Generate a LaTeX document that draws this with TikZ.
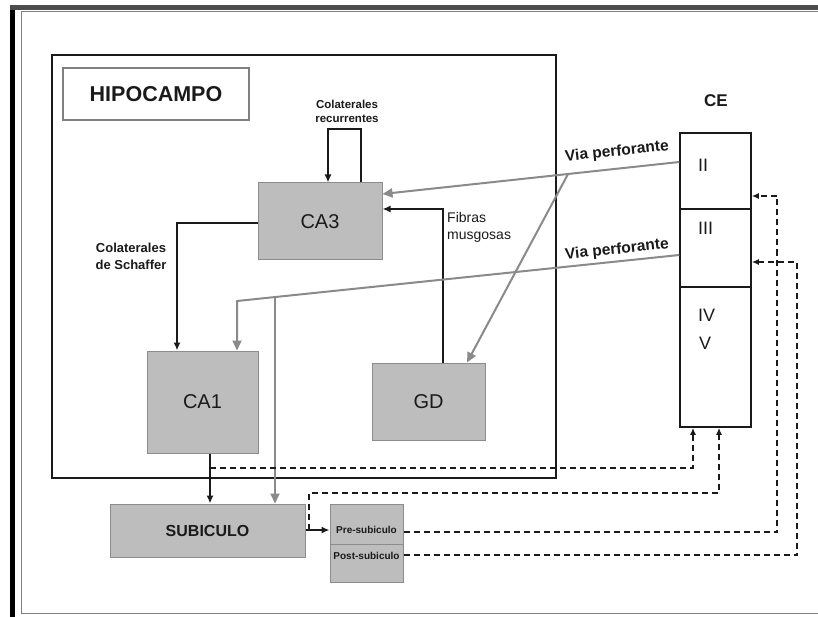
\documentclass[tikz,border=0pt]{standalone}
\usepackage{fontspec}
\setmainfont{Liberation Sans}
\usetikzlibrary{arrows.meta,calc}
\definecolor{boxgray}{HTML}{BDBDBD}
\definecolor{edgegray}{HTML}{8C8C8C}
\definecolor{linegray}{HTML}{8A8A8A}
\definecolor{ink}{HTML}{1A1A1A}
\begin{document}
\begin{tikzpicture}[x=1pt,y=-1pt,
  graybox/.style={draw=edgegray, line width=1pt, fill=boxgray, inner sep=0pt, text=ink,
                  font=\fontsize{20}{24}\selectfont},
  cebox/.style={draw=ink, line width=1.5pt, fill=white, inner sep=0pt, minimum width=71},
  blk/.style={draw=ink, line width=1.8pt},
  blkarr/.style={blk, -{Latex[length=8pt,width=7pt]}},
  grayarr/.style={draw=linegray, line width=2pt, -{Triangle[length=10pt,width=9pt]}},
  dashln/.style={draw=ink, line width=1.8pt, dash pattern=on 6pt off 4pt},
  dasharr/.style={dashln, -{Latex[length=7pt,width=6pt]}},
  lbl/.style={text=ink, inner sep=0pt, align=center},
  smallbold/.style={lbl, font=\bfseries\fontsize{11.5}{14}\selectfont},
  midbold/.style={lbl, font=\bfseries\fontsize{13}{17}\selectfont},
  midreg/.style={lbl, font=\fontsize{14}{17}\selectfont},
  viatext/.style={lbl, font=\bfseries\fontsize{15.5}{18}\selectfont, rotate=6},
  numtext/.style={lbl, anchor=west, font=\fontsize{18}{20}\selectfont},
  tinytext/.style={lbl, font=\bfseries\fontsize{10}{12}\selectfont}
]
\useasboundingbox (0,0) rectangle (818,617);
\fill[white] (0,0) rectangle (818,617);
% outer frame
\fill[black] (10,5) rectangle (15,617);
\fill[black!70] (10,5) rectangle (818,10);
\draw[gray, line width=1pt] (818,613) -- (21,613) -- (21,12) -- (818,12);

% hippocampus frame
\node[draw=ink, line width=2.8pt, fill=white, minimum width=504, minimum height=423, inner sep=0pt] (hip) at (304,266.5) {};
\node[draw=gray, line width=1.2pt, fill=white, minimum width=186, minimum height=52, inner sep=0pt,
      text=ink, font=\bfseries\fontsize{21.5}{24}\selectfont] (hiplbl) at (156,94) {HIPOCAMPO};

% boxes
\node[graybox, minimum width=124, minimum height=77] (ca3) at (320,221.5) {CA3};
\node[graybox, minimum width=111, minimum height=102] (ca1) at (202.5,402) {CA1};
\node[graybox, minimum width=113, minimum height=77] (gd) at (428.5,401.5) {GD};
\node[graybox, minimum width=195, minimum height=53, font=\bfseries\fontsize{16}{18}\selectfont] (sub) at (207.5,530.5) {SUBICULO};
\node[graybox, minimum width=73, minimum height=40] (pre) at (366.5,524) {};
\node[graybox, minimum width=73, minimum height=38] (post) at (366.5,563) {};
\node[tinytext] (pretext) at (366.5,530) {Pre-subiculo};
\node[tinytext] (posttext) at (366.5,556) {Post-subiculo};

% CE column
\node[cebox, minimum height=76] (ce2) at (715.5,171) {};
\node[cebox, minimum height=78] (ce3) at (715.5,248) {};
\node[cebox, minimum height=140] (ce45) at (715.5,357) {};
\node[lbl, font=\bfseries\fontsize{17}{20}\selectfont] (celbl) at (716,101) {CE};
\node[numtext] (tII) at (698,165) {II};
\node[numtext] (tIII) at (698,228) {III};
\node[numtext] (tIV) at (698,315) {IV};
\node[numtext] (tV) at (699,343) {V};

% labels
\node[smallbold] (reclbl) at (347,111) {Colaterales\\recurrentes};
\node[midbold] (schlbl) at (131,256.5) {Colaterales\\de Schaffer};
\node[midreg, align=left, anchor=west] (muslbl) at (447,227.5) {Fibras\\musgosas};
\node[viatext] (via1) at (617,152) {Via perforante};
\node[viatext] (via2) at (617,250) {Via perforante};

% recurrent collaterals
\coordinate (r1) at (361,129);
\coordinate (r2) at (328,129);
\draw[blkarr] (ca3.north -| r1) -- (r1) -- (r2) -- (ca3.north -| r2);

% Schaffer collaterals
\coordinate (s1) at (177,223);
\draw[blkarr] (ca3.west |- s1) -- (s1) -- (ca1.north -| s1);

% mossy fibres
\coordinate (m1) at (443,209);
\draw[blkarr] (gd.north -| m1) -- (m1) -- (ca3.east |- m1);

% perforant path 1
\coordinate (v1a) at (680,162);
\coordinate (v1b) at (383,194);
\draw[grayarr] (ce2.west |- v1a) -- (ca3.east |- v1b);
\coordinate (v1c) at (568,174.1);
\coordinate (v1d) at (467,363);
\draw[grayarr] (v1c) -- (gd.north -| v1d);

% perforant path 2
\coordinate (v2a) at (680,255);
\coordinate (v2b) at (237,301);
\coordinate (v2c) at (275,297.1);
\draw[grayarr] (ce3.west |- v2a) -- (v2b) -- (ca1.north -| v2b);
\draw[grayarr] (v2c) -- (sub.north -| v2c);

% CA1 -> subiculum, CA1 -> CE
\coordinate (c1) at (210,468);
\coordinate (c2) at (693,468);
\draw[blkarr] (ca1.south -| c1) -- (sub.north -| c1);
\draw[dasharr] (c1) -- (c2) -- (ce45.south -| c2);

% subiculum -> pre-subiculum, subiculum -> CE
\coordinate (sp) at (309,530);
\coordinate (sq) at (309,493);
\coordinate (sr) at (719,493);
\draw[blkarr] (sub.east |- sp) -- (pre.west |- sp);
\draw[dasharr] (sp) -- (sq) -- (sr) -- (ce45.south -| sr);

% pre / post subiculum -> CE
\coordinate (p1) at (777,532);
\coordinate (p2) at (777,196);
\draw[dasharr] (pre.east |- p1) -- (p1) -- (p2) -- (ce2.east |- p2);
\coordinate (q1) at (797,555);
\coordinate (q2) at (797,262);
\draw[dasharr] (post.east |- q1) -- (q1) -- (q2) -- (ce3.east |- q2);
\end{tikzpicture}
\end{document}
